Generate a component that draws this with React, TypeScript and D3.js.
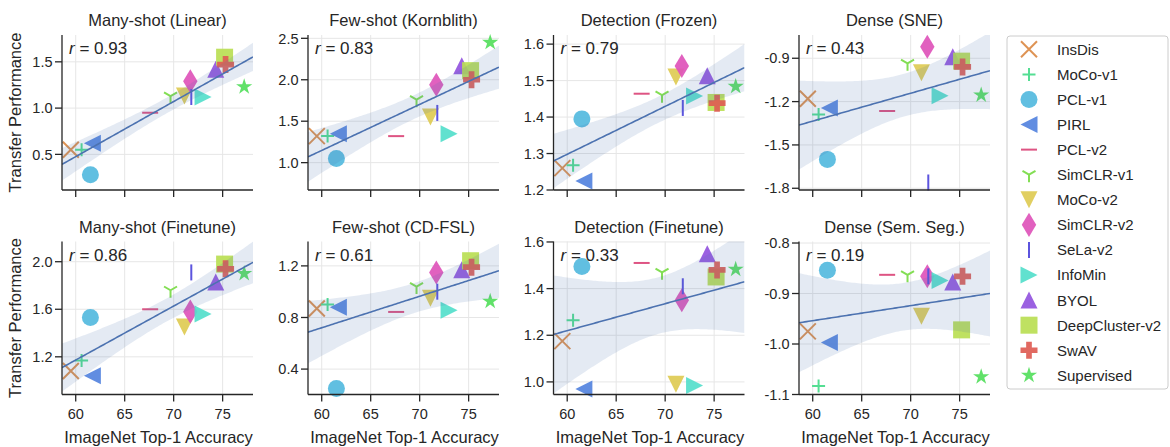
import React from 'react'
import * as d3 from 'd3'

// methods, in plotting order
const methods = ['InsDis', 'MoCo-v1', 'PCL-v1', 'PIRL', 'PCL-v2', 'SimCLR-v1', 'MoCo-v2', 'SimCLR-v2', 'SeLa-v2', 'InfoMin', 'BYOL', 'DeepCluster-v2', 'SwAV', 'Supervised']
const markers = ['x', '+', 'o', '<', '_', '1', 'v', 'd', '|', '>', '^', 's', 'P', '*']
const hueIndex = [1, 6, 8, 9, 14, 4, 2, 13, 10, 7, 11, 3, 0, 5]
const imagenetAcc = [59.5, 60.6, 61.5, 61.7, 67.6, 69.68, 71.1, 71.7, 71.8, 73.0, 74.3, 75.2, 75.3, 77.2]

// transfer performance per benchmark
const manyShotLinear = [0.55, 0.55, 0.28, 0.62, 0.95, 1.13, 1.13, 1.29, 1.12, 1.12, 1.42, 1.55, 1.47, 1.23]
const fewShotKornblith = [1.32, 1.32, 1.05, 1.35, 1.32, 1.76, 1.55, 1.94, 1.6, 1.35, 2.17, 2.11, 2.0, 2.45]
const detectionFrozen = [1.26, 1.268, 1.395, 1.225, 1.464, 1.46, 1.51, 1.54, 1.425, 1.458, 1.513, 1.44, 1.438, 1.484]
const denseSNE = [-1.18, -1.29, -1.6, -1.245, -1.265, -0.935, -1.0, -0.82, -1.76, -1.16, -0.89, -0.92, -0.96, -1.155]
const manyShotFinetune = [1.08, 1.17, 1.53, 1.04, 1.6, 1.76, 1.45, 1.58, 1.91, 1.56, 1.83, 1.98, 1.94, 1.9]
const fewShotCDFSL = [0.87, 0.9, 0.25, 0.88, 0.843, 1.04, 0.95, 1.148, 1.0, 0.857, 1.17, 1.24, 1.19, 0.925]
const detectionFinetune = [1.175, 1.264, 1.495, 0.97, 1.51, 1.47, 0.99, 1.35, 1.41, 0.985, 1.55, 1.45, 1.48, 1.483]
const denseSemSeg = [-0.975, -1.083, -0.854, -0.997, -0.863, -0.863, -0.945, -0.866, -0.866, -0.874, -0.877, -0.972, -0.866, -1.065]

const panelData = [manyShotLinear, fewShotKornblith, detectionFrozen, denseSNE, manyShotFinetune, fewShotCDFSL, detectionFinetune, denseSemSeg]
const panelTitles = ['Many-shot (Linear)', 'Few-shot (Kornblith)', 'Detection (Frozen)', 'Dense (SNE)', 'Many-shot (Finetune)', 'Few-shot (CD-FSL)', 'Detection (Finetune)', 'Dense (Sem. Seg.)']
const rValues = ['0.93', '0.83', '0.79', '0.43', '0.86', '0.61', '0.33', '0.19']
const yDomains = [[0.115, 1.79], [0.67, 2.54], [1.2, 1.625], [-1.812, -0.739], [0.883, 2.17], [0.203, 1.389], [0.946, 1.602], [-1.1, -0.797]]
const yTicks = [[0.5, 1.0, 1.5], [1.0, 1.5, 2.0, 2.5], [1.2, 1.3, 1.4, 1.5, 1.6], [-1.8, -1.5, -1.2, -0.9], [1.2, 1.6, 2.0], [0.4, 0.8, 1.2], [1.0, 1.2, 1.4, 1.6], [-1.1, -1.0, -0.9, -0.8]]
const xTicks = [60, 65, 70, 75]
const xDomain = [58.6, 78.1]

const W = 1170, H = 447
const colLeft = [62, 308, 553.5, 799]
const panelW = 191
const rowTop = [35, 241.5]
const rowBottom = [190, 394.5]
const ink = '#262626'
const font = '"Liberation Sans", Arial, sans-serif'
const regColor = '#4c72b0'

const colorOf = (i: number) => d3.hsl(hueIndex[i] * 24 + 3.6, 0.68, 0.6).formatHex()

const Marker = ({ type, x, y, color }: { type: string, x: number, y: number, color: string }) => {
  const s = 17
  const h = s / 2
  const line = { stroke: color, strokeWidth: 2, fill: 'none' }
  const fill = { fill: color, stroke: 'none', opacity: 0.92 }
  const poly = (pts: number[][]) => <polygon points={pts.map(p => `${x + p[0]},${y + p[1]}`).join(' ')} {...fill} />
  switch (type) {
    case 'o': return <circle cx={x} cy={y} r={h} {...fill} />
    case 's': return <rect x={x - h} y={y - h} width={s} height={s} {...fill} />
    case '^': return poly([[0, -h], [-h, h], [h, h]])
    case 'v': return poly([[0, h], [-h, -h], [h, -h]])
    case '<': return poly([[-h, 0], [h, -h], [h, h]])
    case '>': return poly([[h, 0], [-h, -h], [-h, h]])
    case 'd': {
      const hh = s * 0.707, hw = s * 0.424
      return poly([[0, -hh], [hw, 0], [0, hh], [-hw, 0]])
    }
    case '*': {
      const pts: number[][] = []
      for (let k = 0; k < 10; k++) {
        const r = k % 2 === 0 ? h : h * 0.382
        const a = -Math.PI / 2 + k * Math.PI / 5
        pts.push([r * Math.cos(a), r * Math.sin(a)])
      }
      return poly(pts)
    }
    case 'P': {
      const a = s / 6
      return poly([[-a, -h], [a, -h], [a, -a], [h, -a], [h, a], [a, a], [a, h], [-a, h], [-a, a], [-h, a], [-h, -a], [-a, -a]])
    }
    case 'x': return <path d={`M${x - 8},${y - 8}L${x + 8},${y + 8}M${x - 8},${y + 8}L${x + 8},${y - 8}`} {...line} />
    case '+': return <path d={`M${x - 6.5},${y}L${x + 6.5},${y}M${x},${y - 6.5}L${x},${y + 6.5}`} {...line} />
    case '_': return <path d={`M${x - 8},${y}L${x + 8},${y}`} {...line} />
    case '|': return <path d={`M${x},${y - 8}L${x},${y + 8}`} {...line} />
    case '1': return <path d={`M${x},${y}L${x},${y + 7.5}M${x},${y}L${x - 6.5},${y - 3.75}M${x},${y}L${x + 6.5},${y - 3.75}`} {...line} />
    default: return null
  }
}

// least squares fit with 95% confidence band
const regression = (xs: number[], ys: number[]) => {
  const n = xs.length
  const mx = d3.mean(xs)!, my = d3.mean(ys)!
  const sxx = d3.sum(xs, v => (v - mx) ** 2)
  const sxy = d3.sum(xs.map((v, i) => (v - mx) * (ys[i] - my)))
  const b = sxy / sxx, a = my - b * mx
  const s2 = d3.sum(xs.map((v, i) => (ys[i] - a - b * v) ** 2)) / (n - 2)
  const t = 2.179
  const grid = d3.range(0, 101).map(k => xDomain[0] + (xDomain[1] - xDomain[0]) * k / 100)
  return grid.map(gx => {
    const yhat = a + b * gx
    const se = Math.sqrt(s2 * (1 / n + (gx - mx) ** 2 / sxx))
    return { x: gx, y: yhat, lo: yhat - t * se, hi: yhat + t * se }
  })
}

const Panel = ({ idx }: { idx: number }) => {
  const row = Math.floor(idx / 4), col = idx % 4
  const left = colLeft[col], right = left + panelW
  const top = rowTop[row], bottom = rowBottom[row]
  const xScale = d3.scaleLinear().domain(xDomain).range([left, right])
  const yScale = d3.scaleLinear().domain(yDomains[idx]).range([bottom, top])
  const ys = panelData[idx]
  const fit = regression(imagenetAcc, ys)
  const band = d3.area<any>().x(d => xScale(d.x)).y0(d => yScale(d.lo)).y1(d => yScale(d.hi))(fit)
  const regLine = d3.line<any>().x(d => xScale(d.x)).y(d => yScale(d.y))(fit)
  const clipId = `clip${idx}`
  const cx = (left + right) / 2
  return (
    <g>
      <defs>
        <clipPath id={clipId}><rect x={left} y={top} width={panelW} height={bottom - top} /></clipPath>
      </defs>
      {xTicks.map(t => <line key={'gx' + t} x1={xScale(t)} x2={xScale(t)} y1={top} y2={bottom} stroke='#e6e6e6' strokeWidth={1} />)}
      {yTicks[idx].map(t => <line key={'gy' + t} x1={left} x2={right} y1={yScale(t)} y2={yScale(t)} stroke='#e6e6e6' strokeWidth={1} />)}
      {ys.map((v, i) => <Marker key={i} type={markers[i]} x={xScale(imagenetAcc[i])} y={yScale(v)} color={colorOf(i)} />)}
      <g clipPath={`url(#${clipId})`}>
        <path d={band!} fill={regColor} fillOpacity={0.15} />
        <path d={regLine!} fill='none' stroke={regColor} strokeWidth={1.6} />
      </g>
      <line x1={left} x2={left} y1={top} y2={bottom} stroke={ink} strokeWidth={1.3} />
      <line x1={left} x2={right} y1={bottom} y2={bottom} stroke={ink} strokeWidth={1.3} />
      {xTicks.map(t => <line key={'tx' + t} x1={xScale(t)} x2={xScale(t)} y1={bottom} y2={bottom + 7} stroke={ink} strokeWidth={1.3} />)}
      {yTicks[idx].map(t => (
        <g key={'ty' + t}>
          <line x1={left - 7} x2={left} y1={yScale(t)} y2={yScale(t)} stroke={ink} strokeWidth={1.3} />
          <text x={left - 9.5} y={yScale(t)} dy='0.36em' textAnchor='end' fontSize={14.5} fill={ink}>{d3.format('.1f')(t).replace('−', '-')}</text>
        </g>
      ))}
      {row === 1 && xTicks.map(t => <text key={'lx' + t} x={xScale(t)} y={bottom + 24} textAnchor='middle' fontSize={14.5} fill={ink}>{t}</text>)}
      <text x={cx} y={top - 9} textAnchor='middle' fontSize={16.5} fill={ink}>{panelTitles[idx]}</text>
      <text x={left + 7} y={top + 19} fontSize={17} fill={ink}><tspan fontStyle='italic'>r</tspan> = {rValues[idx]}</text>
      {row === 1 && <text x={cx + 1} y={bottom + 48} textAnchor='middle' fontSize={16.5} fill={ink}>ImageNet Top-1 Accuracy</text>}
      {col === 0 && <text transform={`translate(21,${(top + bottom) / 2}) rotate(-90)`} textAnchor='middle' fontSize={16.5} fill={ink}>Transfer Performance</text>}
    </g>
  )
}

const Legend = () => {
  const x0 = 1007, y0 = 36, step = 25.08
  return (
    <g>
      <rect x={x0} y={y0} width={161} height={353} rx={3} fill='white' stroke='#cccccc' strokeWidth={1} />
      {methods.map((m, i) => (
        <g key={m}>
          <Marker type={markers[i]} x={1029} y={49.3 + i * step} color={colorOf(i)} />
          <text x={1057} y={49.3 + i * step} dy='0.36em' fontSize={15} fill={ink}>{m}</text>
        </g>
      ))}
    </g>
  )
}

export default function App() {
  return (
    <svg width={W} height={H} style={{ position: 'absolute', left: 0, top: 0, fontFamily: font, background: 'white' }}>
      {d3.range(8).map(i => <Panel key={i} idx={i} />)}
      <Legend />
    </svg>
  )
}
